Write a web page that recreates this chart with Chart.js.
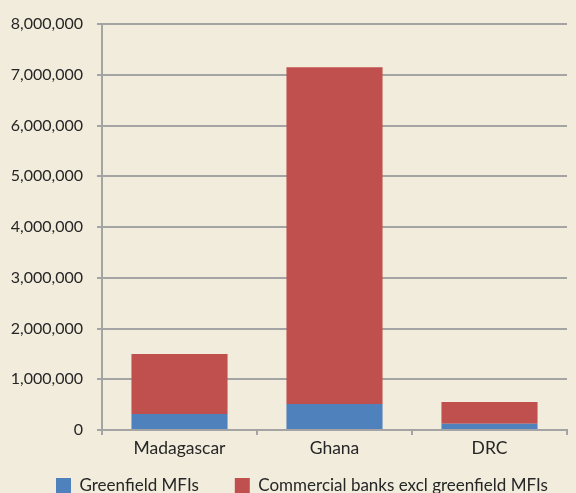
<!DOCTYPE html>
<html>
<head>
<meta charset="utf-8">
<script src="https://cdn.jsdelivr.net/npm/chart.js@4.4.0/dist/chart.umd.min.js"></script>
<style>
  html, body { margin: 0; padding: 0; background: #f2ecdc; overflow: hidden; }
  #wrap { width: 576px; height: 525px; position: relative; }
</style>
</head>
<body>
<div id="wrap"><canvas id="c"></canvas></div>
<script>
const categories = ["Madagascar", "Ghana", "DRC"];
const seriesNames = ["Greenfield MFIs", "Commercial banks excl greenfield MFIs"];
const greenfield = [315000, 510000, 125000];
const commercial = [1185000, 6640000, 425000];
const yTicks = [0, 1000000, 2000000, 3000000, 4000000, 5000000, 6000000, 7000000, 8000000];

const textColor = '#262626';
const gridColor = '#a4a4a4';

// moves the legend box (not data marks) to sit like the reference's legend
const legendShift = {
  id: 'legendShift',
  afterLayout(chart) {
    const l = chart.legend;
    if (!l) return;
    const dx = 20, dy = -21;
    l.left += dx; l.right += dx; l.top += dy; l.bottom += dy;
  }
};

new Chart(document.getElementById('c'), {
  type: 'bar',
  data: {
    labels: categories,
    datasets: [
      { label: seriesNames[0], data: greenfield, backgroundColor: '#4f81bd', borderWidth: 0,
        barPercentage: 0.62, categoryPercentage: 1 },
      { label: seriesNames[1], data: commercial, backgroundColor: '#c0504d', borderWidth: 0,
        barPercentage: 0.62, categoryPercentage: 1 }
    ]
  },
  plugins: [legendShift],
  options: {
    responsive: true,
    maintainAspectRatio: false,
    animation: false,
    layout: { padding: { left: 0, right: 9, top: 24, bottom: 0 } },
    plugins: {
      tooltip: { enabled: false },
      legend: {
        position: 'bottom',
        align: 'start',
        labels: {
          boxWidth: 15, boxHeight: 15, padding: 36,
          color: textColor,
          font: { family: 'Lato', size: 17 }
        }
      }
    },
    scales: {
      x: {
        stacked: true,
        grid: { drawOnChartArea: false, drawTicks: true, tickLength: 5, color: gridColor, lineWidth: 2, offset: true },
        border: { color: gridColor, width: 2 },
        ticks: { color: textColor, font: { family: 'Lato', size: 17.5 }, padding: 3 }
      },
      y: {
        stacked: true,
        min: 0, max: 8000000,
        afterBuildTicks: (s) => { s.ticks = yTicks.map(v => ({ value: v })); },
        grid: { color: gridColor, lineWidth: 2, tickLength: 5 },
        border: { color: gridColor, width: 2 },
        ticks: {
          color: textColor, font: { family: 'Lato', size: 16 }, padding: 14,
          callback: (v) => Number(v).toLocaleString('en-US')
        },
        afterFit: (s) => { s.width = 102; }
      }
    }
  }
});
</script>
</body>
</html>
